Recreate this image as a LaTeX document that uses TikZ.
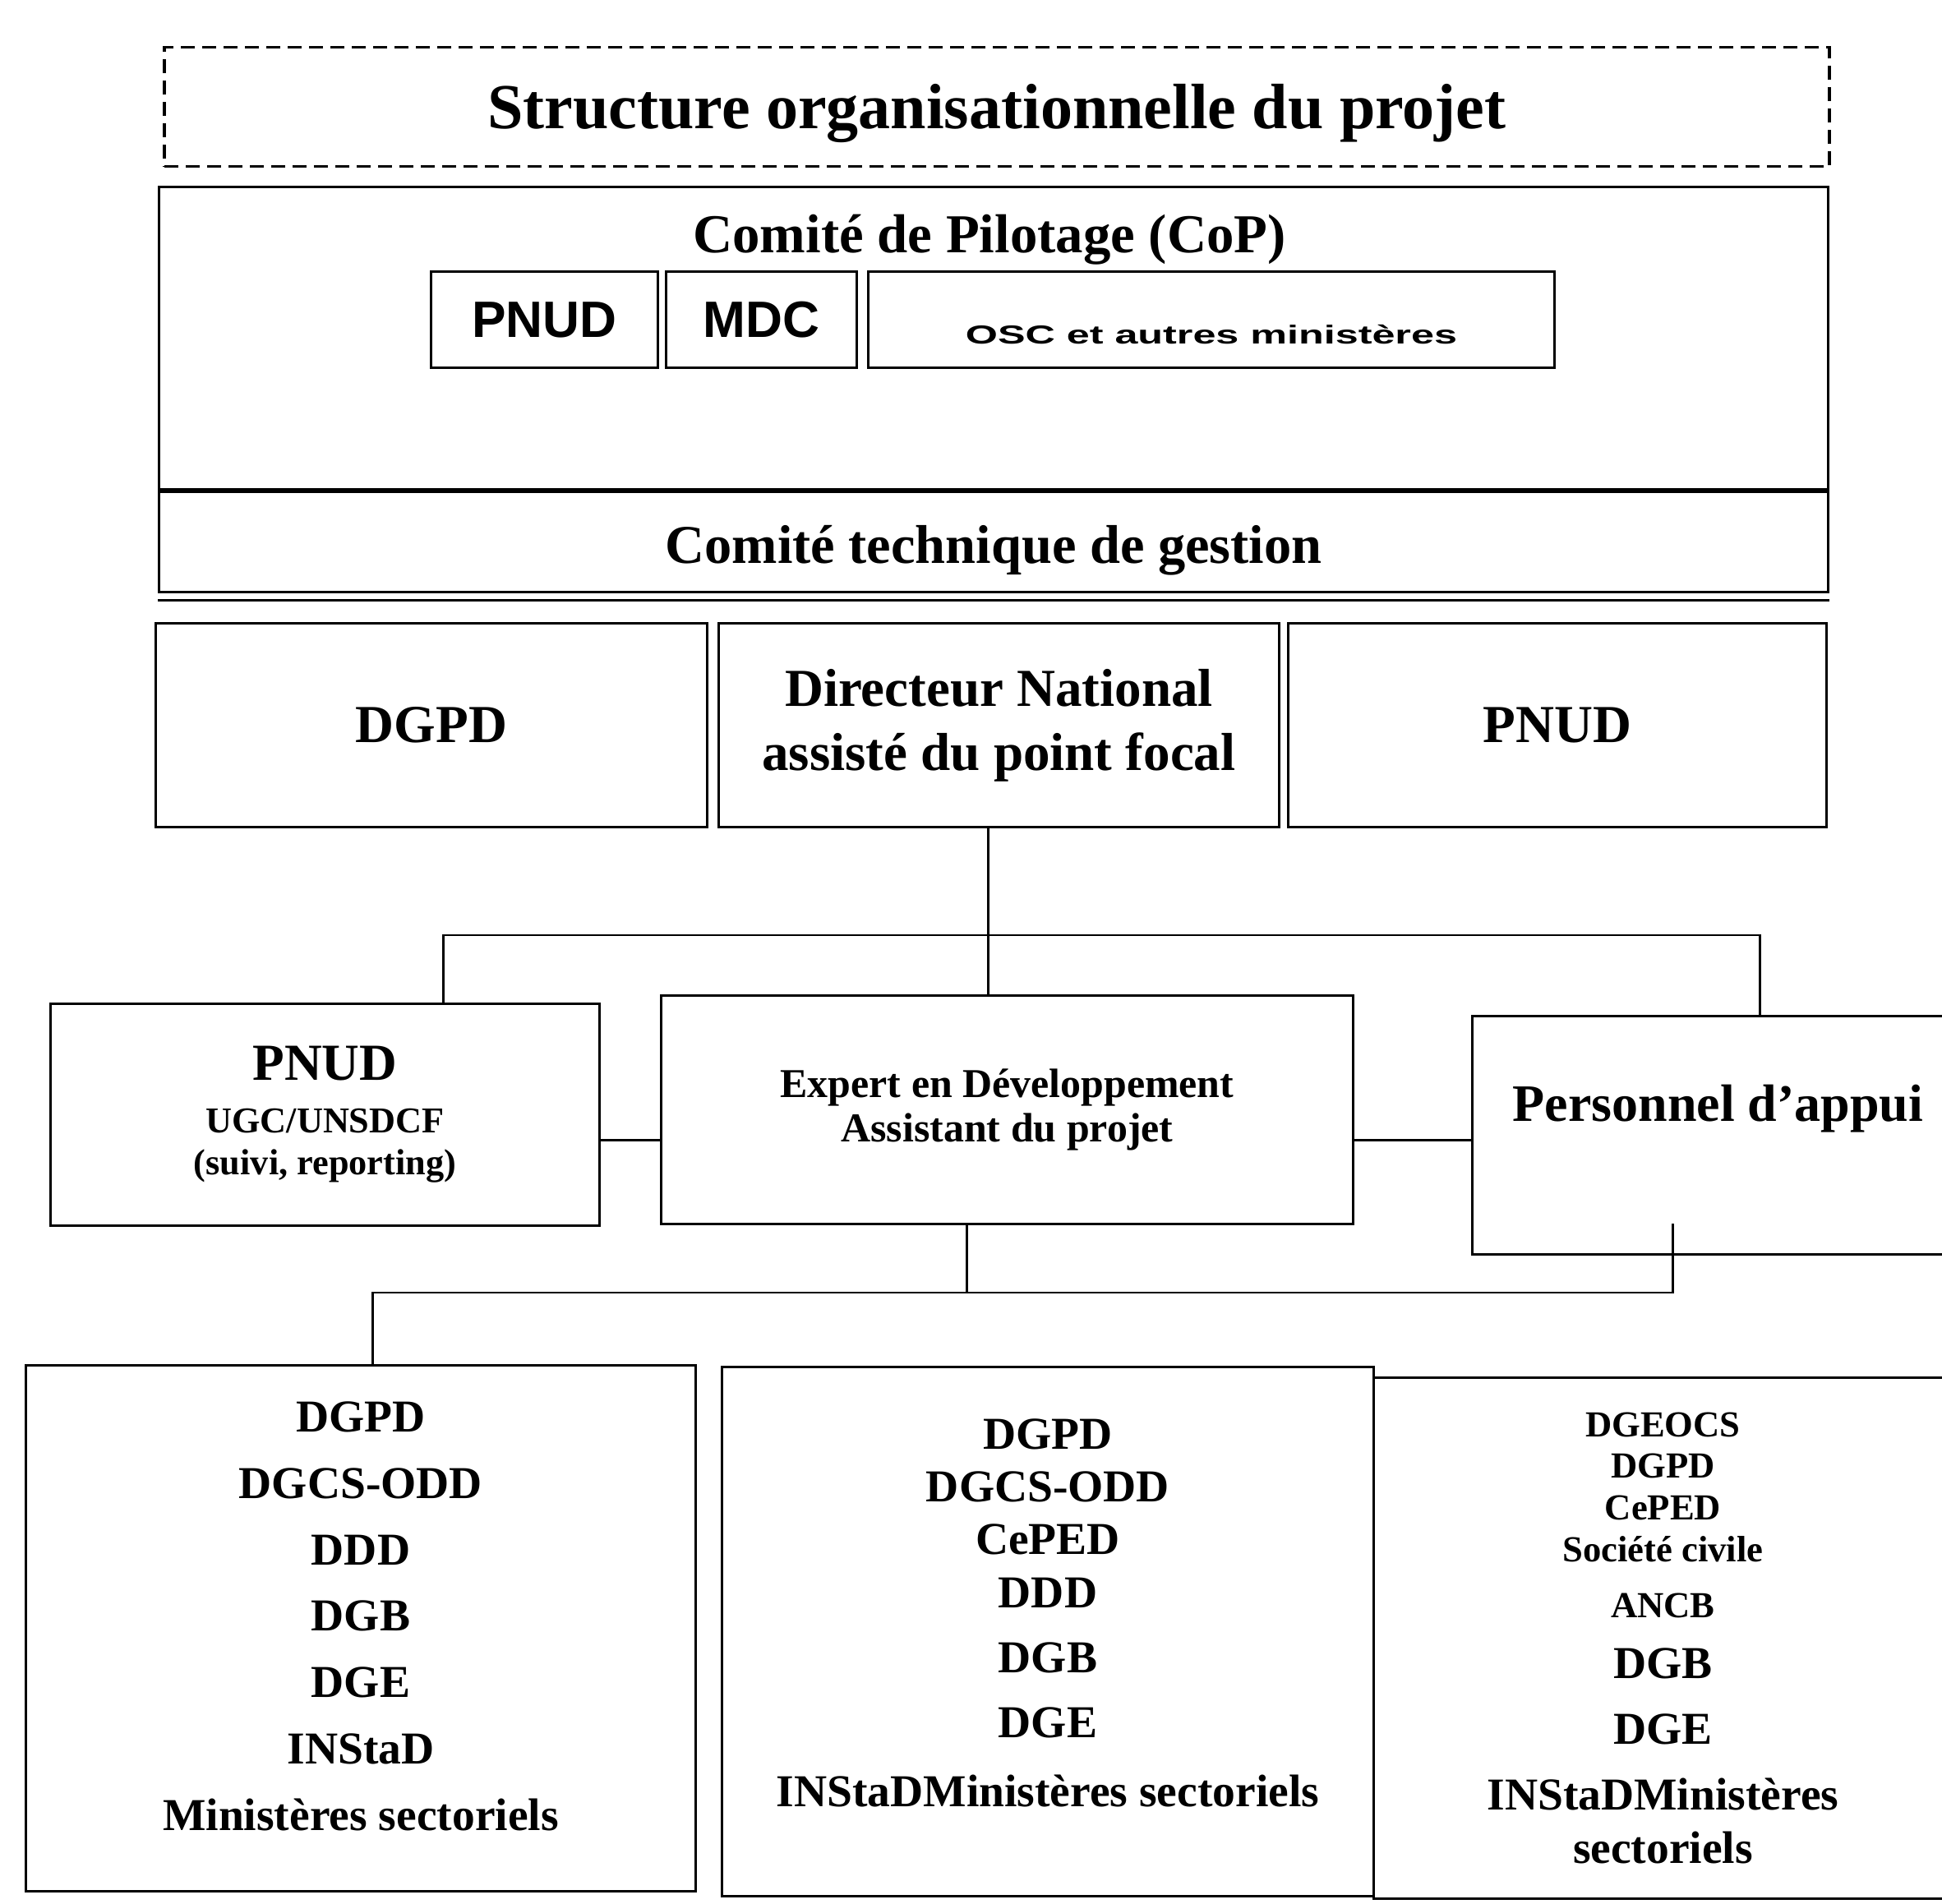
\documentclass[tikz,border=0pt]{standalone}
\usepackage{fontspec}
\setmainfont{Liberation Serif}
\newfontfamily\arialfont{Liberation Sans}
\usetikzlibrary{positioning}
\tikzset{
    frame/.style={rectangle, draw=black, line width=0.85pt, inner sep=0pt, align=center, font=\bfseries},
    cell/.style={frame, minimum height=1.17cm, font=\arialfont\bfseries\fontsize{17.7}{20}\selectfont},
    post/.style={frame, minimum height=2.48cm, font=\bfseries\fontsize{18.5}{22.2}\selectfont},
    listbox/.style={frame, font=\bfseries\fontsize{15.8}{23}\selectfont},
    link/.style={line width=0.6pt}
    }

\begin{document}
\begin{tikzpicture}
        \useasboundingbox (0,0) rectangle (23.63,-23.17);
        % title
        \node[frame, dash pattern=on 0.17cm off 0.09cm, line width=0.9pt, minimum width=20.26cm, minimum height=1.45cm, text height=20pt, font=\bfseries\fontsize{22.2}{26}\selectfont] (title) at (12.13,-1.3) {Structure organisationnelle du projet};
        % comite de pilotage
        \node[frame, minimum width=20.31cm, minimum height=3.68cm, anchor=north west] (cop) at (1.92,-2.26) {};
        \node[font=\bfseries\fontsize{19}{22}\selectfont] (coptitle) at ([xshift=-0.05cm,yshift=-0.66cm]cop.north) {Comité de Pilotage (CoP)};
        \node[cell, minimum width=2.76cm, anchor=north west] (pnudA) at (5.23,-3.29) {PNUD};
        \node[cell, minimum width=2.32cm, right=0.07cm of pnudA] (mdc) {MDC};
        \node[cell, minimum width=8.35cm, right=0.11cm of mdc, text height=17pt] (osc) {\scalebox{1.59}[1]{\fontsize{9}{11}\selectfont OSC et autres ministères}};
        % comite technique
        \node[frame, minimum width=20.31cm, minimum height=1.22cm, below=0pt of cop, text height=19pt, font=\bfseries\fontsize{18.9}{22}\selectfont] (ctg) {Comité technique de gestion};
        \draw[line width=0.85pt] ([yshift=-0.09cm]ctg.south west) -- ([yshift=-0.09cm]ctg.south east);
        % direction
        \node[post, minimum width=6.71cm, anchor=north west] (dgpdA) at (1.88,-7.57) {DGPD};
        \node[post, minimum width=6.82cm, right=0.11cm of dgpdA] (dir) {Directeur National\\assisté du point focal};
        \node[post, minimum width=6.55cm, right=0.08cm of dir] (pnudB) {PNUD};
        % gestion
        \node[frame, minimum width=6.68cm, minimum height=2.70cm, anchor=north west, font=\bfseries\fontsize{12.6}{14.5}\selectfont] (pnudC) at (0.60,-12.20) {{\fontsize{18}{20}\selectfont PNUD}\\[3.7pt]UGC/UNSDCF\\(suivi, reporting)};
        \node[frame, minimum width=8.42cm, minimum height=2.78cm, anchor=north west, font=\bfseries\fontsize{14.2}{15.4}\selectfont] (expert) at (8.03,-12.10) {Expert en Développement\\Assistant du projet};
        \node[frame, minimum width=5.98cm, minimum height=2.90cm, anchor=north west, text depth=0.78cm, font=\bfseries\fontsize{18.2}{21}\selectfont] (pers) at (17.90,-12.35) {Personnel d’appui};
        % partenaires
        \node[listbox, minimum width=8.15cm, minimum height=6.40cm, anchor=north west, text depth=8.5pt] (listA) at (0.30,-16.60) {DGPD\\DGCS-ODD\\DDD\\DGB\\DGE\\INStaD\\Ministères sectoriels};
        \node[listbox, minimum width=7.93cm, minimum height=6.44cm, anchor=north west, text depth=12.8pt] (listB) at (8.77,-16.62) {DGPD\\[-4.8pt]DGCS-ODD\\[-4.8pt]CePED\\[-4.5pt]DDD\\[-0.5pt]DGB\\[-0.5pt]DGE\\[0.9pt]INStaDMinistères sectoriels};
        \node[listbox, minimum width=7.04cm, minimum height=6.34cm, anchor=north west] (listC) at (16.70,-16.75) {{\fontsize{12.7}{14}\selectfont DGEOCS}\\[-8.6pt]{\fontsize{12.7}{14}\selectfont DGPD}\\[-8.6pt]{\fontsize{12.7}{14}\selectfont CePED}\\[-8.6pt]{\fontsize{12.7}{14}\selectfont Société civile}\\[-3.65pt]{\fontsize{12.7}{14}\selectfont ANCB}\\[-1.95pt]DGB\\[-0.24pt]DGE\\INStaDMinistères\\[-4.5pt]sectoriels};

        \coordinate (busA) at ([xshift=-0.13cm,yshift=-1.30cm]dir.south);
        \draw[link] ([xshift=-0.13cm]dir.south) -- ([xshift=-0.13cm]dir.south |- expert.north);
        \draw[link] ([xshift=1.44cm]pnudC.north) |- (busA) -| ([xshift=0.51cm]pers.north);
        \draw[link] ([yshift=-0.31cm]pnudC.east) -- ([yshift=-0.31cm]pnudC.east -| expert.west);
        \draw[link] ([yshift=-0.37cm]expert.east) -- ([yshift=-0.37cm]expert.east -| pers.west);
        \draw[link] ([xshift=-0.49cm]expert.south) -- ++(0,-0.82) coordinate (busB);
        \draw[link] ([xshift=0.145cm]listA.north) |- (busB) -| ([xshift=-0.55cm,yshift=0.39cm]pers.south);
    \end{tikzpicture}
\end{document}
